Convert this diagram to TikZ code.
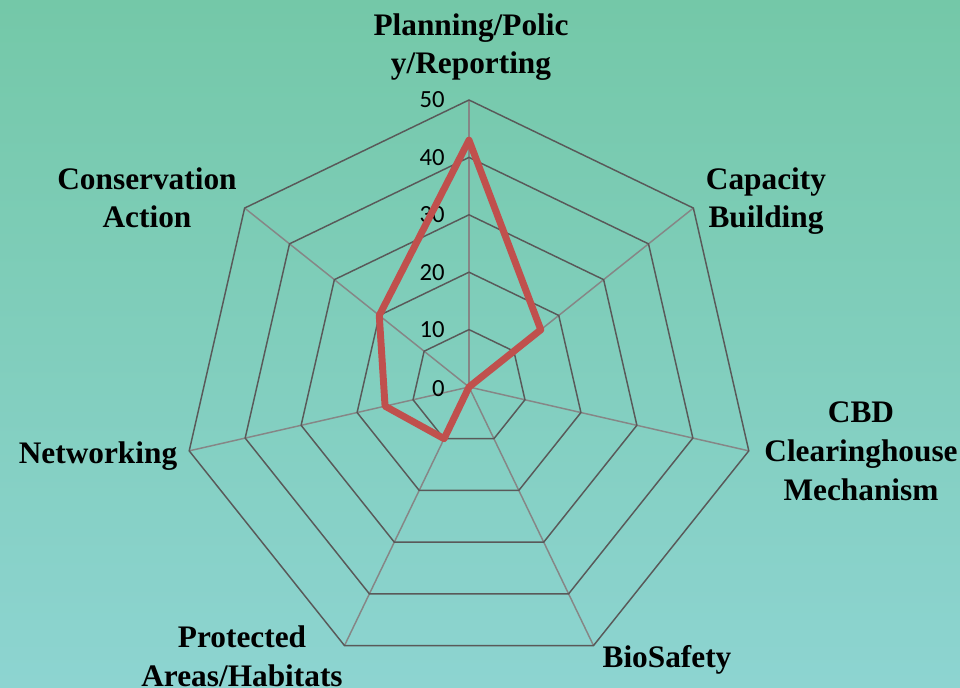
\documentclass[tikz,border=0pt]{standalone}
\usepackage{fontspec}
\setmainfont{Liberation Serif}
\newfontfamily\tickfont{Carlito}
\definecolor{bgtop}{HTML}{74C8A8}
\definecolor{bgbottom}{HTML}{8DD4D1}
\definecolor{ringgray}{HTML}{595959}
\definecolor{spokegray}{HTML}{868686}
\definecolor{seriesred}{HTML}{C0504D}
\begin{document}
\begin{tikzpicture}[x=0.75pt,y=-0.75pt,
  ring/.style={draw=ringgray, line width=1.1pt, line join=miter},
  spoke/.style={draw=spokegray, line width=1.1pt},
  axislabel/.style={font=\fontsize{23.5}{28.9}\selectfont\bfseries, align=center, inner sep=0pt, anchor=base},
  ticklabel/.style={font=\tickfont\fontsize{18.5}{22}\selectfont, anchor=east, inner sep=0pt},
  series/.style={draw=seriesred, line width=5.2pt, line join=round, line cap=round}]
\useasboundingbox (0,0) rectangle (960,688);
\shade[top color=bgtop, bottom color=bgbottom] (0,0) rectangle (960,688);
\coordinate (c) at (469,387);
\foreach \i/\v in {0/43,1/16,2/0,3/0,4/10,5/15,6/20}{
  \pgfmathsetmacro\ang{90-\i*360/7}
  \foreach \k in {1,...,5}{
    \coordinate (r\k-\i) at ({469+57.4*\k*cos(\ang)},{387-57.4*\k*sin(\ang)});
  }
  \coordinate (d\i) at ({469+5.74*\v*cos(\ang)},{387-5.74*\v*sin(\ang)});
}
\foreach \i in {0,...,6}{ \draw[spoke] (c) -- (r5-\i); }
\foreach \k in {1,...,5}{
  \draw[ring] (r\k-0) -- (r\k-1) -- (r\k-2) -- (r\k-3) -- (r\k-4) -- (r\k-5) -- (r\k-6) -- cycle;
}
\node[ticklabel] (t0) at (445,389) {0};
\foreach \k in {1,...,5}{ \node[ticklabel] (t\k) at (445,{387-57.4*\k}) {\k0}; }
\draw[series] (d0) -- (d1) -- (d2) -- (d3) -- (d4) -- (d5) -- (d6) -- cycle;
\node[axislabel] (lplan) at (471,74) {Planning/Polic\\y/Reporting};
\node[axislabel] (lcap) at (766,228) {Capacity\\Building};
\node[axislabel] (lcbd) at (861,500) {CBD\\Clearinghouse\\Mechanism};
\node[axislabel] (lbio) at (667,667) {BioSafety};
\node[axislabel] (lprot) at (242,686) {Protected\\Areas/Habitats};
\node[axislabel] (lnet) at (98,463) {Networking};
\node[axislabel] (lcons) at (147,228) {Conservation\\Action};
\end{tikzpicture}
\end{document}
